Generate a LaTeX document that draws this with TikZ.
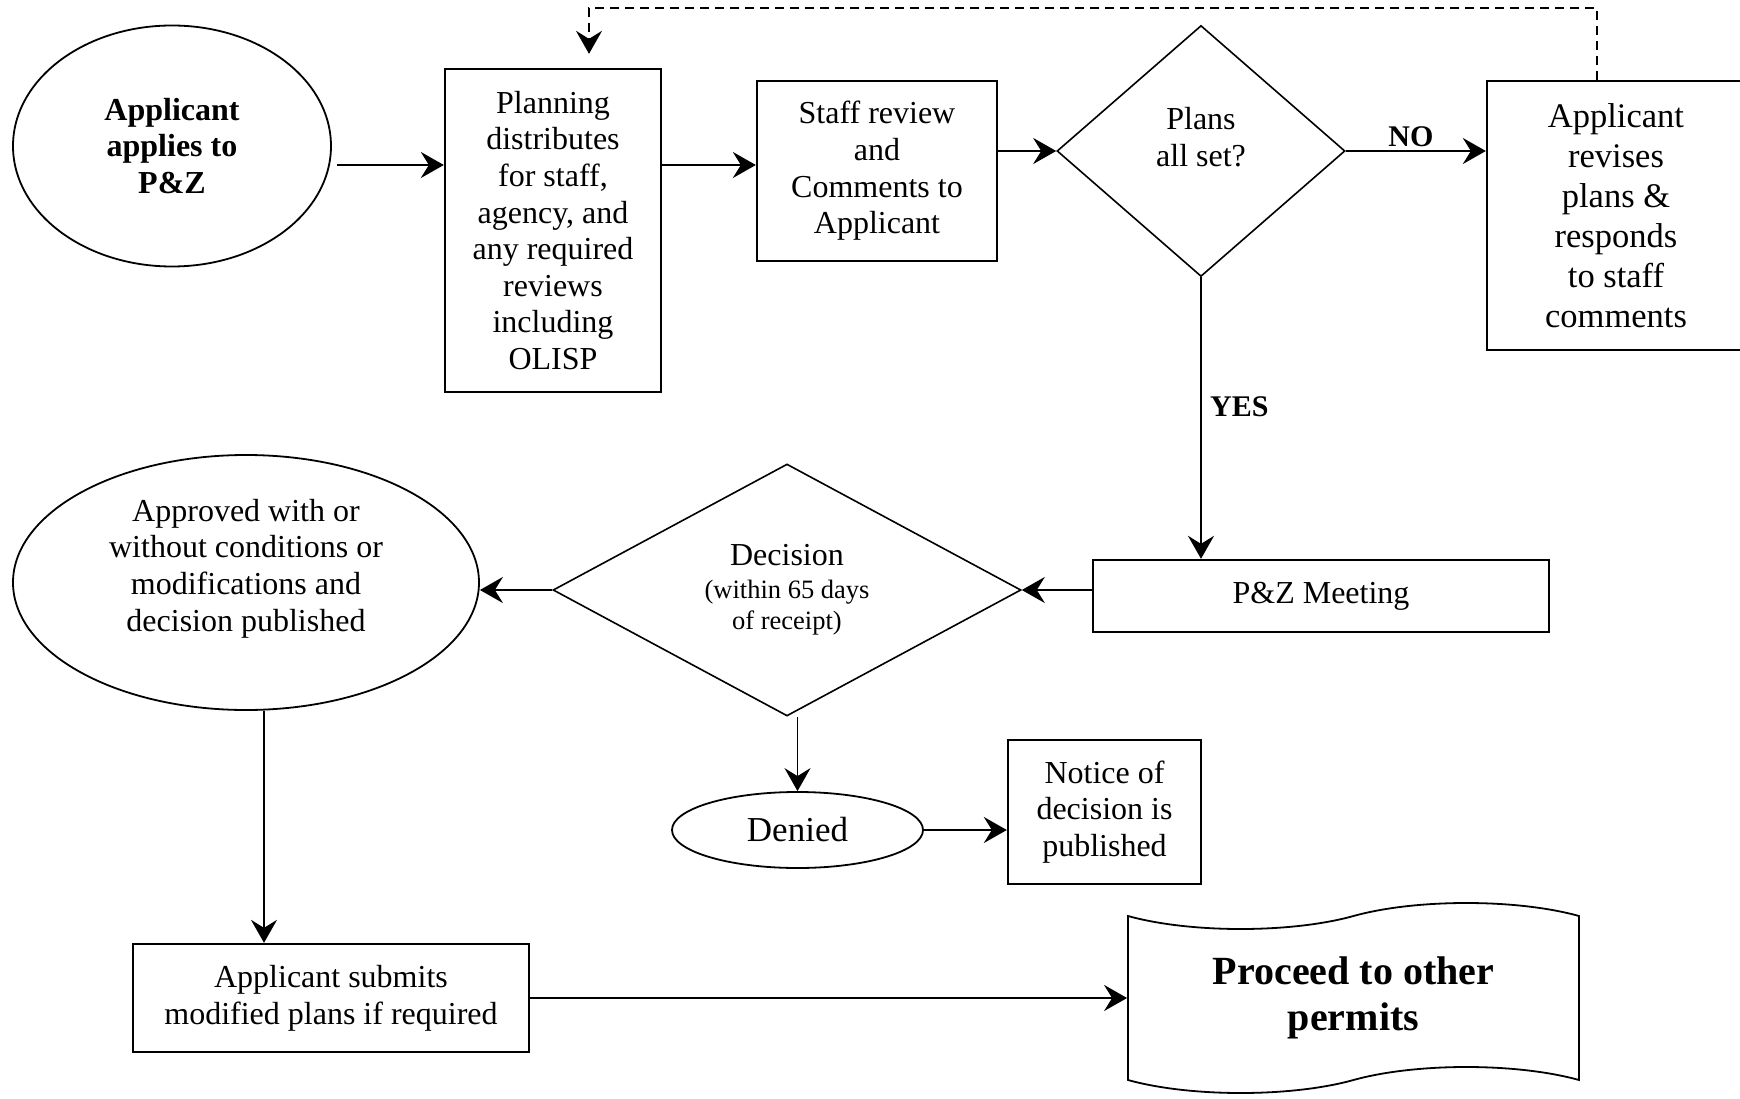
\documentclass[tikz,border=0pt]{standalone}
\usepackage{fontspec}
\setmainfont{Liberation Serif}
\usepackage{tikz}
\usetikzlibrary{positioning,arrows.meta,shapes.geometric,shapes.symbols}
\tikzset{
  procbox/.style={rectangle,draw=black,line width=2.3pt,inner sep=0pt,align=center},
  termin/.style={ellipse,draw=black,line width=1.8pt,inner sep=0pt,align=center},
  decide/.style={diamond,draw=black,line width=1.6pt,inner sep=0pt,align=center},
  flag/.style={tape,draw=black,line width=1.8pt,inner sep=0pt,align=center,tape bend height=26pt},
  flow/.style={line width=2.3pt,-{Stealth[length=23pt,width=26pt,inset=8pt]}},
  thinflow/.style={flow,line width=1.5pt},
  feedback/.style={flow,line width=1.8pt,dash pattern=on 9pt off 6pt},
  answer/.style={font=\fontsize{30}{34}\selectfont\bfseries,inner sep=3pt}
}

\begin{document}
\begin{tikzpicture}[x=1pt,y=-1pt,font=\fontsize{32}{36.6}\selectfont]
    \useasboundingbox (0,0) rectangle (1740,1099);
    \node[termin,minimum width=318pt,minimum height=241pt,font=\fontsize{32}{36.6}\selectfont\bfseries] (apply) at (172,146) {Applicant\\applies to\\P\&Z};
    \node[procbox,minimum width=216pt,minimum height=323pt] (planning) at (553,230.5) {Planning\\distributes\\for staff,\\agency, and\\any required\\reviews\\including\\OLISP};
    \node[procbox,minimum width=240pt,minimum height=180pt] (staff) at (877,171) {Staff review\\and\\Comments to\\Applicant};
    \node[decide,shape aspect=1.15,minimum width=288pt,minimum height=251pt,text depth=28pt] (plans) at (1201,151) {Plans\\all set?};
    \node[procbox,minimum width=258pt,minimum height=269pt,font=\fontsize{34.5}{40}\selectfont] (revises) at (1616,215.5) {Applicant\\revises\\plans \&\\responds\\to staff\\comments};
    \node[procbox,minimum width=456pt,minimum height=72pt] (meeting) at (1321,596) {P\&Z Meeting};
    \node[decide,shape aspect=1.86,minimum width=468pt,minimum height=252pt] (decision) at (787,590) {Decision\\[-4pt]\fontsize{26.5}{31}\selectfont(within 65 days\\[-5pt]\fontsize{26.5}{31}\selectfont of receipt)};
    \node[termin,minimum width=466pt,minimum height=255pt,text depth=35pt] (approved) at (246,582.5) {Approved with or\\without conditions or\\modifications and\\decision published};
    \node[termin,minimum width=251pt,minimum height=76pt,font=\fontsize{35}{40}\selectfont] (denied) at (797.5,830) {Denied};
    \node[procbox,minimum width=193pt,minimum height=144pt] (notice) at (1104.5,812) {Notice of\\decision is\\published};
    \node[procbox,minimum width=396pt,minimum height=108pt] (submits) at (331,998) {Applicant submits\\modified plans if required};
    \node[flag,minimum width=451pt,minimum height=190pt,font=\fontsize{40}{46.6}\selectfont\bfseries] (proceed) at (1353.5,998) {Proceed to other\\permits};

    \draw[flow] ([xshift=5pt]apply.east |- 0,165) -- (planning.west |- 0,165);
    \draw[flow] (planning.east |- 0,165) -- (staff.west |- 0,165);
    \draw[flow] (staff.east |- plans.west) -- (plans.west);
    \draw[flow] (plans.east) -- node[answer,above,pos=0.465] {NO} (revises.west |- plans.east);
    \draw[feedback] ([xshift=-19pt]revises.north) -- ++(0,-72) -| ([xshift=36pt,yshift=14pt]planning.north);
    \draw[flow] (plans.south) -- node[answer,right=5pt,pos=0.46] {YES} (plans.south |- meeting.north);
    \draw[flow] (meeting.west |- decision.east) -- (decision.east);
    \draw[flow] (decision.west) -- (approved.east |- decision.west);
    \draw[thinflow] (decision.south -| denied.north) -- (denied.north);
    \draw[flow] (denied.east) -- (notice.west |- denied.east);
    \draw[thinflow] ([xshift=18pt]approved.south) -- ([xshift=18pt]approved.south |- submits.north);
    \draw[flow] (submits.east) -- (proceed.west |- submits.east);
\end{tikzpicture}
\end{document}
